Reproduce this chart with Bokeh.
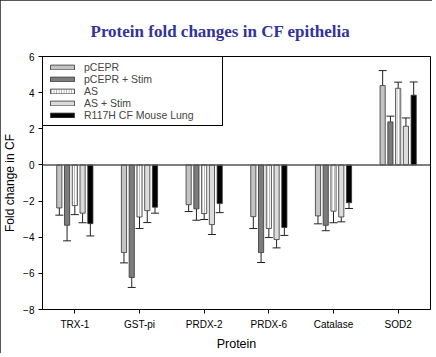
from bokeh.plotting import figure
from bokeh.models import FactorRange, Span, Legend, LegendItem, ColumnDataSource, FixedTicker
from bokeh.transform import dodge
from bokeh.embed import file_html
from bokeh.resources import INLINE

proteins = ["TRX-1", "GST-pi", "PRDX-2", "PRDX-6", "Catalase", "SOD2"]
series_names = ["pCEPR", "pCEPR + Stim", "AS", "AS + Stim", "R117H CF Mouse Lung"]

pcepr = [-2.38, -4.85, -2.20, -2.86, -2.82, 4.39]
pcepr_err = [0.40, 0.57, 0.38, 0.66, 0.44, 0.83]
pcepr_stim = [-3.34, -6.23, -2.43, -4.85, -3.34, 2.38]
pcepr_stim_err = [0.86, 0.55, 0.63, 0.55, 0.30, 0.32]
as_only = [-2.25, -2.88, -2.69, -3.52, -2.56, 4.24]
as_only_err = [0.50, 0.64, 0.33, 0.50, 0.64, 0.34]
as_stim = [-2.67, -2.53, -3.30, -4.13, -2.88, 2.14]
as_stim_err = [0.53, 0.66, 0.55, 0.46, 0.27, 0.46]
r117h = [-3.25, -2.34, -2.14, -3.46, -2.09, 3.86]
r117h_err = [0.68, 0.33, 0.50, 0.44, 0.32, 0.73]

y_ticks = [-8, -6, -4, -2, 0, 2, 4, 6]

values = [pcepr, pcepr_stim, as_only, as_stim, r117h]
errors = [pcepr_err, pcepr_stim_err, as_only_err, as_stim_err, r117h_err]
fills = ["#c4c4c4", "#7c7c7c", "#ffffff", "#dcdcdc", "#000000"]
hatches = [" ", " ", "vertical_line", " ", " "]
offsets = [-0.24, -0.12, 0.0, 0.12, 0.24]

p = figure(x_range=FactorRange(*proteins, range_padding=0), y_range=(-8, 6),
           frame_width=388, frame_height=253, output_backend="svg", toolbar_location=None,
           min_border_left=35, min_border_right=2, min_border_top=56, min_border_bottom=44)
p.styles = {"outline": "2px solid #222222", "outline-offset": "-2px"}

p.title.text = "Protein fold changes in CF epithelia"
p.title.text_font = "Liberation Serif"
p.title.text_font_style = "bold"
p.title.text_font_size = "17px"
p.title.text_color = "#333399"
p.title.align = "left"
p.title.offset = 48
p.title.standoff = 32

p.xgrid.visible = False
p.ygrid.visible = False
p.outline_line_color = "black"
p.outline_line_alpha = 1
p.outline_line_width = 1

for ax in (p.xaxis[0], p.yaxis[0]):
    ax.axis_line_color = "black"
    ax.major_tick_line_color = "black"
    ax.major_tick_out = 4
    ax.major_tick_in = 0
    ax.minor_tick_line_color = None
    ax.major_label_text_font = "Liberation Sans"
    ax.major_label_text_font_size = "10px"
    ax.major_label_text_color = "black"
    ax.axis_label_text_font = "Liberation Sans"
    ax.axis_label_text_font_style = "normal"
    ax.axis_label_text_color = "black"

p.yaxis.ticker = FixedTicker(ticks=y_ticks)
p.yaxis.axis_label = "Fold change in CF"
p.yaxis.axis_label_text_font_size = "12px"
p.yaxis.major_label_standoff = 4
p.yaxis.axis_label_standoff = 3
p.xaxis.axis_label = "Protein"
p.xaxis.axis_label_text_font_size = "12.5px"
p.xaxis.major_label_standoff = 5
p.xaxis.axis_label_standoff = 4

p.add_layout(Span(location=0, dimension="width", line_color="#555555", line_width=1.5))

items = []
for name, vals, errs, fc, hp, off in zip(series_names, values, errors, fills, hatches, offsets):
    ends = [v + (e if v >= 0 else -e) for v, e in zip(vals, errs)]
    src = ColumnDataSource(dict(protein=proteins, val=vals, end=ends))
    xd = dodge("protein", off, range=p.x_range)
    p.segment(x0=xd, y0="val", x1=xd, y1="end", source=src, line_color="#222222", line_width=1)
    p.scatter(x=xd, y="end", marker="dash", size=8, source=src, line_color="#222222", line_width=1)
    r = p.vbar(x=xd, top="val", bottom=0, width=0.08, source=src,
               fill_color=fc, line_color="#333333", line_width=0.8,
               hatch_pattern=hp, hatch_color="#a8a8a8", hatch_scale=2.5, hatch_weight=1)
    items.append(LegendItem(label=name, renderers=[r]))

legend = Legend(items=items, location="top_left", margin=0, padding=4, spacing=0,
                glyph_width=30, glyph_height=6, label_height=12, label_width=134,
                label_standoff=7, label_text_font="Liberation Sans", label_text_font_size="10.5px",
                border_line_color="black", border_line_width=1, border_line_alpha=1,
                background_fill_color="white", background_fill_alpha=1)
p.add_layout(legend)

open("out.html", "w").write(file_html(p, INLINE))
